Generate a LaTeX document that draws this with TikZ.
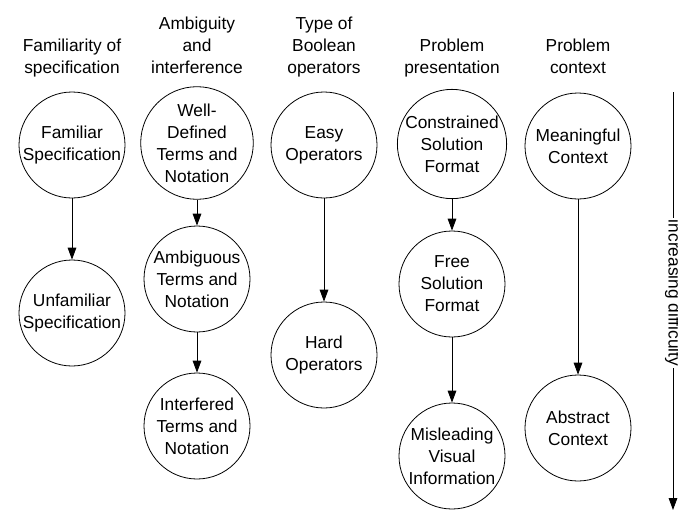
\documentclass[tikz,border=0pt]{standalone}
\usepackage{fontspec}
\setmainfont{Liberation Sans}
\usetikzlibrary{arrows.meta}

\begin{document}
\begin{tikzpicture}
  [x=0.75pt,y=-0.75pt,line width=0.6pt,
   every node/.style={font=\fontsize{13}{16.5}\selectfont,align=center},
   level/.style={circle,draw,minimum size=79.5pt,inner sep=0pt},
   head/.style={anchor=south,inner sep=0pt},
   tip/.style={-{Triangle[length=9pt,width=6.5pt]}}]
  \useasboundingbox (0,0) rectangle (678,514);

  % column headings
  \node[head] (h1) at (72,80)  {Familiarity of\\specification\strut};
  \node[head] (h2) at (197,80) {Ambiguity\\and\\interference\strut};
  \node[head] (h3) at (324,80) {Type of\\Boolean\\operators\strut};
  \node[head] (h4) at (452,80) {Problem\\presentation\strut};
  \node[head] (h5) at (578,80) {Problem\\context\strut};

  % dimensions
  \node[level] (fam)      at (72,145)  {Familiar\\Specification};
  \node[level] (unfam)    at (72,313)  {Unfamiliar\\Specification};
  \node[level] (welldef)  at (197,143) {Well-\\Defined\\Terms and\\Notation};
  \node[level] (ambig)    at (197,279) {Ambiguous\\Terms and\\Notation};
  \node[level] (interf)   at (197,426) {Interfered\\Terms and\\Notation};
  \node[level] (easy)     at (324,145) {Easy\\Operators};
  \node[level] (hard)     at (324,355) {Hard\\Operators};
  \node[level] (constr)   at (452,144) {Constrained\\Solution\\Format};
  \node[level] (free)     at (452,284) {Free\\Solution\\Format};
  \node[level] (mislead)  at (452,456) {Misleading\\Visual\\Information};
  \node[level] (meaning)  at (578,146) {Meaningful\\Context};
  \node[level] (abstract) at (578,428) {Abstract\\Context};

  \foreach \from/\to in {fam/unfam,welldef/ambig,ambig/interf,easy/hard,
                         constr/free,free/mislead,meaning/abstract}
    \draw[tip] (\from) -- (\to);

  % difficulty axis
  \coordinate (top) at (673,92);
  \coordinate (bot) at (673,510);
  \draw[tip] (top) -- (bot);
  \node[rotate=-90,fill=white,inner sep=1.5pt] (diff) at (673,293) {increasing difficulty};

\end{tikzpicture}
\end{document}
